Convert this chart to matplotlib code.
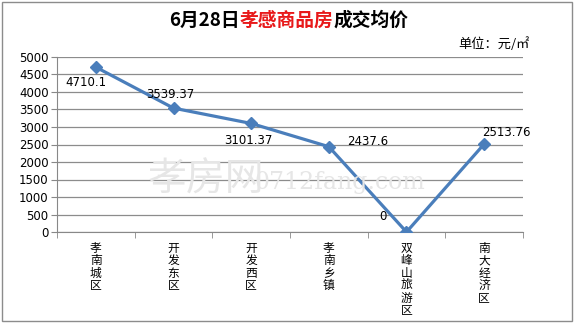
import matplotlib
matplotlib.use("Agg")
import matplotlib.pyplot as plt
import numpy as np

plt.rcParams['font.family'] = ['Noto Sans CJK SC', 'DejaVu Sans']

categories = ["孝南城区", "开发东区", "开发西区", "孝南乡镇", "双峰山旅游区", "南大经济区"]
values = [4710.1, 3539.37, 3101.37, 2437.6, 0, 2513.76]
labels = ["4710.1", "3539.37", "3101.37", "2437.6", "0", "2513.76"]
yticks = [0, 500, 1000, 1500, 2000, 2500, 3000, 3500, 4000, 4500, 5000]

fig = plt.figure(figsize=(5.78, 3.24), dpi=100)
W, H = 578, 324
ax = fig.add_axes([57 / W, 1 - 232 / H, 466 / W, 175 / H])

x = np.arange(len(categories))
ax.plot(x, values, color='#4A7EBB', lw=2.3, marker='D', ms=6, zorder=3)
ax.set_xlim(-0.5, len(categories) - 0.5)
ax.set_ylim(0, 5000)
ax.set_yticks(yticks)
ax.set_yticklabels([str(v) for v in yticks], fontsize=8.5, family='DejaVu Sans')
ax.set_xticks(x)
ax.set_xticklabels(['\n'.join(c) for c in categories], fontsize=8.5, linespacing=0.95, va='top')
ax.set_xticks(np.arange(-0.5, len(categories)), minor=True)
ax.tick_params(axis='x', which='major', length=0, pad=7)
ax.tick_params(axis='x', which='minor', length=4, color='#888888', direction='out')
ax.tick_params(axis='y', length=4, color='#888888', direction='out', pad=2)
ax.grid(axis='y', color='#8c8c8c', lw=0.9)
ax.set_axisbelow(True)
for s in ['top', 'right']:
    ax.spines[s].set_visible(False)
ax.spines['left'].set_color('#888888')
ax.spines['bottom'].set_color('#888888')

offsets = [(-7, -11), (-2, 9.5), (-2, -12.5), (28, 3.4), (-17, 11.5), (16, 8.6)]
for i, (v, lab) in enumerate(zip(values, labels)):
    ax.annotate(lab, (x[i], v), xytext=offsets[i], textcoords='offset points',
                ha='center', va='center', fontsize=8.5, family='DejaVu Sans', zorder=4)

# watermark
fig.text(0.255, 1 - 180 / H, "孝房网", fontsize=28, color='#e6e6e6', va='center', ha='left', zorder=0)
fig.text(0.44, 1 - 183 / H, "0712fang.com", fontsize=17, color='#e6e6e6', va='center', ha='left',
         family='DejaVu Serif', zorder=0)

# title in three colours
fig.canvas.draw()
r = fig.canvas.get_renderer()
parts = [("6月28日", 'black'), ("孝感商品房", '#e8191a'), ("成交均价", 'black')]
ts = []
for txt, c in parts:
    t = fig.text(0, 1 - 20 / H, txt, fontsize=13.5, fontweight='bold', color=c, va='center', ha='left')
    ts.append(t)
widths = [t.get_window_extent(r).width for t in ts]
total = sum(widths)
xs = 289 - total / 2
for t, w in zip(ts, widths):
    t.set_x(xs / W)
    xs += w

fig.text(530 / W, 1 - 44 / H, "单位：元/㎡", fontsize=9.5, ha='right', va='center')

# outer border
fig.patches.append(plt.Rectangle((2 / W, 3 / H), 570 / W, 319 / H, transform=fig.transFigure,
                                 fill=False, edgecolor='#8c8c8c', lw=1))

fig.savefig("out.png", dpi=100)
